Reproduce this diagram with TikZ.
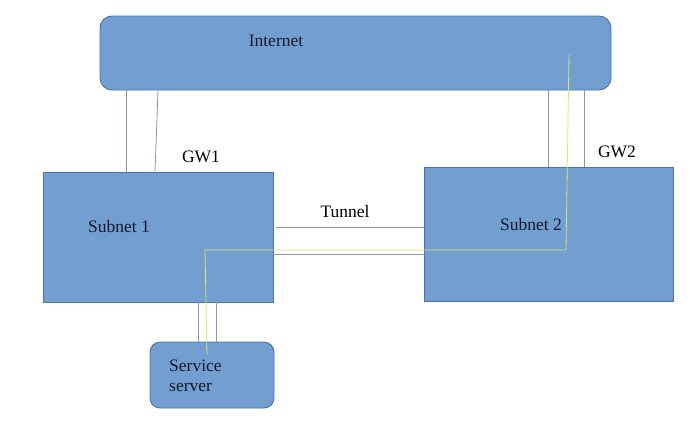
\documentclass[tikz,border=0pt]{standalone}
\usepackage{fontspec}
\setmainfont{Liberation Serif}
\definecolor{boxfill}{HTML}{729FCF}
\definecolor{boxline}{HTML}{4A74A8}
\definecolor{wire}{HTML}{8C97AE}
\definecolor{trace}{HTML}{D8E86A}
\definecolor{intext}{HTML}{101830}
\begin{document}
\begin{tikzpicture}[x=1pt,y=-1pt,
  box/.style={draw=boxline,fill=boxfill,line width=0.9pt,inner sep=0pt},
  lbl/.style={font=\fontsize{17.5}{20}\selectfont,inner sep=0pt},
  wirestyle/.style={draw=wire,line width=0.8pt},
  tracestyle/.style={draw=trace,line width=0.8pt}]
\useasboundingbox (0,0) rectangle (690,437);
\node[box,rounded corners=12pt,minimum width=511pt,minimum height=74pt] (internet) at (355.5,53) {};
\node[box,minimum width=230pt,minimum height=130pt] (sub1) at (158,237) {};
\node[box,minimum width=249pt,minimum height=134pt] (sub2) at (548.5,234) {};
\node[box,rounded corners=10pt,minimum width=124pt,minimum height=66pt] (server) at (212,375) {};
% connectors
\draw[wirestyle] (internet.south -| 126,0) -- (sub1.north -| 126,0);
\draw[wirestyle] (internet.south -| 158,0) -- (sub1.north -| 155,0);
\draw[wirestyle] (internet.south -| 548,0) -- (sub2.north -| 548,0);
\draw[wirestyle] (internet.south -| 584,0) -- (sub2.north -| 584,0);
\draw[wirestyle] (sub1.east |- 0,227) ++(3,0) -- (sub2.west |- 0,227);
\draw[wirestyle] (sub1.east |- 0,254) -- (sub2.west |- 0,254);
\draw[wirestyle] (sub1.south -| 198,0) -- (server.north -| 198,0);
\draw[wirestyle] (sub1.south -| 216,0) -- (server.north -| 216,0);
% trace
\coordinate (t0) at (569,55);
\coordinate (t1) at (566,250);
\coordinate (t2) at (205,250);
\coordinate (t3) at (207,354);
\draw[tracestyle] (t0) -- (t1) -- (t2) -- (t3);
% labels
\node[lbl,text=intext] (tinternet) at (276,41) {Internet};
\node[lbl,text=intext] (tsub1) at (119,227) {Subnet 1};
\node[lbl,text=intext] (tsub2) at (531,225) {Subnet 2};
\node[lbl] (ttunnel) at (345,212) {Tunnel};
\node[lbl] (tgw1) at (201,157) {GW1};
\node[lbl] (tgw2) at (617,152) {GW2};
\node[lbl,text=intext,align=left,anchor=north west] (tserver) at (169,360) {Service\\server};
\end{tikzpicture}
\end{document}
